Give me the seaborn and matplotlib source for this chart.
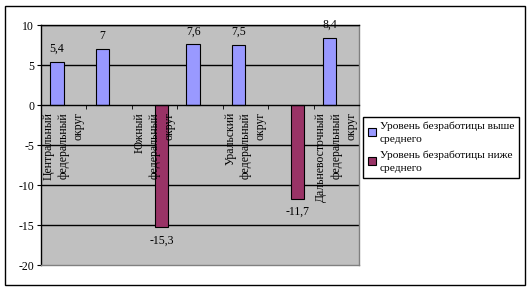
import numpy as np
import pandas as pd
import matplotlib
matplotlib.use("Agg")
import matplotlib.pyplot as plt
import seaborn as sns
from matplotlib.patches import Rectangle

# ---- data ----
districts = [
    "Центральный федеральный округ",
    "Северо-Западный федеральный округ",
    "Южный федеральный округ",
    "Приволжский федеральный округ",
    "Уральский федеральный округ",
    "Сибирский федеральный округ",
    "Дальневосточный федеральный округ",
]
series_names = ["Уровень безработицы выше среднего", "Уровень безработицы ниже среднего"]
legend_labels = ["Уровень безработицы выше\nсреднего", "Уровень безработицы ниже\nсреднего"]
above = [5.4, 7.0, np.nan, 7.6, 7.5, np.nan, 8.4]
below = [np.nan, np.nan, -15.3, np.nan, np.nan, -11.7, np.nan]
y_ticks = [10, 5, 0, -5, -10, -15, -20]
colors = ["#9999FF", "#993366"]

rows = []
for d, a, b in zip(districts, above, below):
    if not np.isnan(a):
        rows.append((d, series_names[0], a))
    if not np.isnan(b):
        rows.append((d, series_names[1], b))
df = pd.DataFrame(rows, columns=["district", "series", "value"])

plt.rcParams["font.family"] = ["Liberation Serif", "DejaVu Serif"]
FS = 8.5

W, H = 532, 291
fig = plt.figure(figsize=(W / 100, H / 100), dpi=100)
ax = fig.add_axes([41 / W, 1 - 265 / H, (359 - 41) / W, (265 - 25) / H])
ax.set_facecolor("#C0C0C0")

sns.barplot(data=df, x="district", y="value", hue="series", order=districts,
            hue_order=series_names, palette=colors, width=0.6, saturation=1,
            dodge=True, edgecolor="black", linewidth=0.8, errorbar=None, ax=ax)

fmt = lambda v: (f"{v:g}").replace(".", ",")
for cont in ax.containers:
    ax.bar_label(cont, fmt=fmt, padding=5, fontsize=FS)

# gridlines behind bars
for yv in y_ticks:
    if yv in (0, -20):
        continue
    ax.axhline(yv, color="black", lw=1, zorder=0.5)

ax.spines["bottom"].set_position(("data", 0))

ax.set_ylim(-20, 10)
ax.set_xlim(-0.5, len(districts) - 0.5)
ax.set_yticks(y_ticks)
ax.set_yticklabels([str(v) for v in y_ticks], fontsize=FS)

ax.set_xticks(range(len(districts)))
ax.set_xticklabels([d.replace(" ", "\n") if i % 2 == 0 else "" for i, d in enumerate(districts)],
                   rotation=90, fontsize=FS, va="top", ha="center")
for lbl in ax.get_xticklabels():
    lbl.set_multialignment("right")
    lbl.set_linespacing(1.35)
ax.set_xticks(np.arange(-0.5, len(districts), 1), minor=True)
ax.tick_params(axis="x", which="major", length=0, pad=5)
ax.tick_params(axis="x", which="minor", length=3, direction="out", color="black")
ax.tick_params(axis="y", length=3, direction="out", color="black", pad=2)

ax.spines["bottom"].set_color("black")
ax.spines["left"].set_color("black")
ax.spines["top"].set_color("black")
ax.spines["right"].set_color("#808080")
for s in ax.spines.values():
    s.set_linewidth(1)
ax.axhline(-20, color="#808080", lw=1, clip_on=False, zorder=3)

ax.set_xlabel("")
ax.set_ylabel("")

handles, _ = ax.get_legend_handles_labels()
ax.get_legend().remove()
leg = fig.legend(handles, legend_labels, loc="upper left",
                 bbox_to_anchor=(363 / W, 1 - 117 / H), borderaxespad=0,
                 frameon=True, fancybox=False, edgecolor="black", framealpha=1,
                 handlelength=0.7, handleheight=0.7, handletextpad=0.4,
                 labelspacing=0.6, borderpad=0.4, prop={"size": 8.2})
for t in leg.get_texts():
    t.set_linespacing(1.55)
leg.get_frame().set_linewidth(1)

fig.add_artist(Rectangle((5 / W, 1 - 284.5 / H), 520 / W, 279 / H,
                         transform=fig.transFigure, fill=False,
                         edgecolor="black", lw=1))

fig.savefig("out.png", dpi=100)
